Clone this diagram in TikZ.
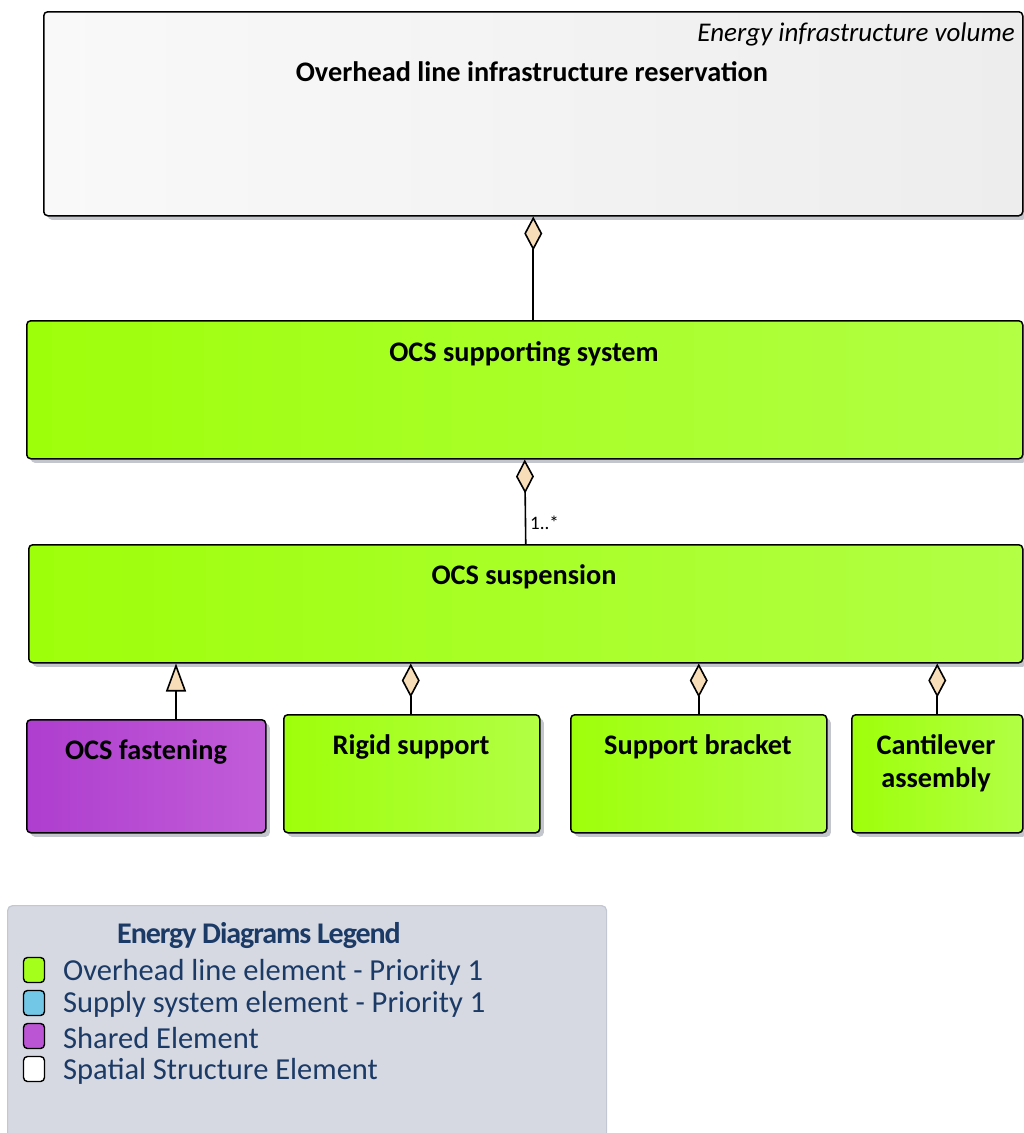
\documentclass[tikz,border=0pt]{standalone}
\usepackage{fontspec}
\setmainfont{Carlito}
\newfontfamily\legtitlefont[LetterSpace=-3.5]{Carlito}
\usetikzlibrary{arrows.meta,shadows}
\definecolor{grnL}{HTML}{9EFF0A}
\definecolor{grnR}{HTML}{B2FF45}
\definecolor{purL}{HTML}{AE3ECF}
\definecolor{purR}{HTML}{C25DD8}
\definecolor{grayL}{HTML}{F9F9F9}
\definecolor{grayR}{HTML}{EDEDED}
\definecolor{wheatf}{HTML}{F7DDB8}
\definecolor{navy}{HTML}{1B3A66}
\definecolor{legfill}{HTML}{D6D9E1}
\definecolor{legdraw}{HTML}{C3C7D1}
\definecolor{shad}{HTML}{C4C6CE}
\definecolor{sqgreen}{HTML}{A4FF1A}
\definecolor{sqblue}{HTML}{72C6E6}
\definecolor{sqpurple}{HTML}{BC55D4}
\tikzset{
  x=1pt, y=-1pt,
  box/.style={draw=black, line width=1.5pt, rounded corners=4pt, anchor=north west, inner sep=0pt,
    drop shadow={shadow xshift=4pt, shadow yshift=-4pt, fill=shad, opacity=1}},
  greenbox/.style={box, left color=grnL, right color=grnR},
  purplebox/.style={box, left color=purL, right color=purR},
  graybox/.style={box, left color=grayL, right color=grayR},
  ttl/.style={font=\fontsize{28.3}{33}\selectfont\bfseries, align=center, inner sep=0pt},
  agg/.style={line width=1.6pt, -{Diamond[length=34pt,width=18pt,fill=wheatf,line width=1.6pt]}},
  gen/.style={line width=1.6pt, -{Triangle[length=28pt,width=20pt,fill=wheatf,line width=1.6pt]}},
  legtxt/.style={font=\fontsize{30.5}{33}\selectfont, text=navy, anchor=west, inner sep=0pt},
  legsq/.style={draw=black, line width=1.4pt, rounded corners=4pt, minimum width=21pt, minimum height=25pt, inner sep=0pt}
}
\begin{document}
\begin{tikzpicture}
\useasboundingbox (0,0) rectangle (1024,1133);
\clip (0,0) rectangle (1024,1133);
% boxes
\node[graybox, minimum width=979pt, minimum height=204pt] (olir) at (43,11) {};
\node[greenbox, minimum width=996pt, minimum height=138pt] (sup) at (26,320) {};
\node[greenbox, minimum width=994pt, minimum height=118pt] (susp) at (28,544) {};
\node[purplebox, minimum width=239pt, minimum height=113pt] (fast) at (26,719) {};
\node[greenbox, minimum width=256pt, minimum height=118pt] (rigid) at (283,714) {};
\node[greenbox, minimum width=256pt, minimum height=118pt] (brack) at (570,714) {};
\node[greenbox, minimum width=171pt, minimum height=118pt] (cant) at (851,714) {};
% titles
\node[font=\fontsize{27}{30}\selectfont\itshape, anchor=east, inner sep=0pt] (olirst) at (1015,34) {Energy infrastructure volume};
\node[ttl] (olirt) at (532,72) {Overhead line infrastructure reservation};
\node[ttl] (supt) at (524,354) {OCS supporting system};
\node[ttl] (suspt) at (524,577) {OCS suspension};
\node[ttl] (fastt) at (146,752) {OCS fastening};
\node[ttl] (rigidt) at (411,747) {Rigid support};
\node[ttl] (brackt) at (698,747) {Support bracket};
\node[ttl] (cantt) at (936,763) {Cantilever\\assembly};
% connectors
\draw[agg] (sup.north -| olir.south) -- (olir.south);
\draw[agg] (susp.north) -- (sup.south);
\node[font=\fontsize{19}{22}\selectfont, anchor=west, inner sep=0pt] (mult) at (530,523) {1..*};
\coordinate (fastc) at (176,719);
\draw[gen] (fastc) -- (fastc |- susp.south);
\draw[agg] ([xshift=-1pt]rigid.north) -- ([xshift=-1pt]rigid.north |- susp.south);
\draw[agg] (brack.north) -- (brack.north |- susp.south);
\draw[agg] (cant.north) -- (cant.north |- susp.south);
% legend
\node[draw=legdraw, line width=1.2pt, fill=legfill, rounded corners=5pt, anchor=north west, minimum width=599pt, minimum height=260pt, inner sep=0pt] (leg) at (7,905) {};
\node[font=\fontsize{30}{33}\selectfont\legtitlefont\bfseries, text=navy, inner sep=0pt] (legt) at (259,936) {Energy Diagrams Legend};
\node[legsq, fill=sqgreen] (sq1) at (34,970) {};
\node[legsq, fill=sqblue] (sq2) at (34,1003) {};
\node[legsq, fill=sqpurple] (sq3) at (34,1036) {};
\node[legsq, fill=white] (sq4) at (34,1069) {};
\node[legtxt] (l1) at (63,972) {Overhead line element - Priority 1};
\node[legtxt] (l2) at (63,1004) {Supply system element - Priority 1};
\node[legtxt] (l3) at (63,1038) {Shared Element};
\node[legtxt] (l4) at (63,1071) {Spatial Structure Element};
\end{tikzpicture}
\end{document}
